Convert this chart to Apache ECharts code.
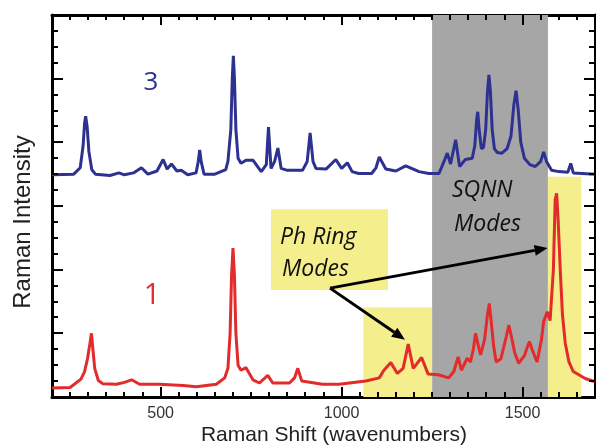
<!DOCTYPE html>
<html><head><meta charset="utf-8">
<script src="https://cdn.jsdelivr.net/npm/echarts@6/dist/echarts.min.js"></script>
<style>html,body{margin:0;padding:0;background:#fff}#c{width:596px;height:448px}</style>
</head><body><div id="c"></div>
<script>
// ---- data ----
const xRange = [200, 1700];
const yRange = [0, 6];
const xMajorTicks = [500, 1000, 1500];
const xMinorStep = 50;
const yMajorStep = 1;
const yMinorStep = 0.25;

const spectrum3Wn  = [200,260,278,286,290,293,297,302,310,320,360,385,400,425,447,465,490,507,518,530,545,557,575,598,604,608,612,620,650,680,686,694,698,701,704,708,714,722,736,755,778,792,798,805,815,824,833,850,892,905,913,921,929,957,984,1000,1016,1029,1047,1083,1095,1104,1122,1150,1177,1190,1214,1241,1269,1283,1292,1301,1315,1326,1342,1361,1368,1373,1376,1380,1386,1392,1398,1403,1407,1411,1416,1422,1430,1443,1457,1468,1476,1482,1488,1495,1505,1520,1535,1550,1558,1566,1580,1600,1625,1633,1640,1700];
const spectrum3Int = [3.49,3.5,3.6,3.95,4.3,4.41,4.25,3.85,3.57,3.5,3.48,3.52,3.49,3.52,3.6,3.5,3.55,3.73,3.58,3.66,3.55,3.56,3.49,3.52,3.7,3.88,3.7,3.5,3.5,3.57,3.7,4.2,5.0,5.36,5.0,4.2,3.75,3.67,3.72,3.72,3.54,3.65,4.24,3.59,3.7,3.91,3.59,3.56,3.56,3.7,4.15,3.7,3.59,3.58,3.73,3.59,3.68,3.54,3.51,3.51,3.6,3.77,3.58,3.55,3.63,3.6,3.54,3.51,3.51,3.7,3.83,3.66,4.04,3.62,3.73,3.75,3.95,4.35,4.48,4.2,3.9,3.92,4.2,4.8,5.06,4.8,4.2,3.9,3.84,3.83,3.9,4.1,4.6,4.81,4.5,4.0,3.75,3.65,3.62,3.7,3.85,3.7,3.56,3.54,3.53,3.67,3.52,3.5];

const spectrum1Wn  = [200,250,280,290,298,305,309,313,318,328,340,378,400,420,442,497,562,599,654,677,686,692,696,700,704,708,714,722,736,755,773,796,810,856,870,879,890,947,993,1067,1104,1117,1136,1154,1170,1184,1198,1221,1239,1267,1296,1310,1322,1331,1347,1356,1364,1370,1376,1384,1395,1403,1408,1413,1420,1427,1440,1455,1462,1469,1478,1489,1505,1514,1519,1526,1540,1552,1558,1568,1576,1580,1585,1590,1594,1598,1604,1610,1618,1628,1640,1673,1700];
const spectrum1Int = [0.14,0.15,0.28,0.4,0.6,0.85,1.0,0.75,0.45,0.26,0.21,0.2,0.23,0.27,0.2,0.2,0.18,0.16,0.2,0.3,0.45,1.0,1.9,2.34,1.9,1.0,0.5,0.42,0.46,0.27,0.22,0.34,0.22,0.22,0.3,0.45,0.25,0.2,0.2,0.25,0.3,0.42,0.54,0.37,0.45,0.83,0.45,0.62,0.36,0.35,0.3,0.4,0.63,0.42,0.61,0.55,0.75,1.0,0.85,0.66,0.9,1.3,1.47,1.2,0.8,0.55,0.6,0.95,1.13,0.95,0.7,0.53,0.65,0.8,0.87,0.75,0.55,0.9,1.18,1.34,1.2,1.18,2.0,3.1,3.2,2.8,2.0,1.3,0.84,0.55,0.4,0.29,0.24];

// shaded bands: [x0, x1, y0, y1]
const bandGray   = [[1250, 1570, 0, 6]];
const bandYellow = [[1060, 1250, 0, 1.41], [1570, 1662, 0, 3.46], [805, 1128, 1.68, 2.95]];
// arrows: [x0, y0, x1, y1]
const arrows = [[968, 1.71, 1175, 0.90], [968, 1.71, 1569, 2.34]];

// ---- chart ----
const zip = (a, b) => a.map((v, i) => [v, b[i]]);
const black = '#000';
const GRAY = '#a6a6a6', YELLOW = '#f4ef8c', BLUE = '#2d3190', RED = '#e32b2b';

// tick values (axis positions), tagged 1 = major, 0 = minor
const xTickData = [];
for (let v = xRange[0]; v <= xRange[1]; v += xMinorStep) xTickData.push([v, yRange[0], xMajorTicks.includes(v) ? 1 : 0]);
const yTickData = [];
for (let v = yRange[0]; v <= yRange[1] + 1e-9; v += yMinorStep) {
  const r = Math.round(v * 100) / 100;
  yTickData.push([xRange[0], r, Math.abs(r / yMajorStep - Math.round(r / yMajorStep)) < 1e-9 ? 1 : 0]);
}

const axisLine = { show: true, onZero: false, lineStyle: { color: black, width: 3 } };
function xAx(pos) {
  return {
    type: 'value', min: xRange[0], max: xRange[1], position: pos,
    splitLine: { show: false }, axisLine, axisTick: { show: false },
    axisLabel: pos === 'bottom'
      ? { show: true, customValues: xMajorTicks, formatter: v => String(v), fontSize: 16, color: '#333', margin: 9, fontFamily: 'Liberation Sans' }
      : { show: false }
  };
}
function yAx(pos) {
  return {
    type: 'value', min: yRange[0], max: yRange[1], interval: yMajorStep, position: pos,
    splitLine: { show: false }, axisLine, axisTick: { show: false }, axisLabel: { show: false }
  };
}

function bandSeries(name, bands, color) {
  return {
    name, type: 'custom', z: 1, silent: true, clip: false, data: bands,
    renderItem: (params, api) => {
      const p0 = api.coord([api.value(0), api.value(3)]);
      const p1 = api.coord([api.value(1), api.value(2)]);
      return { type: 'rect', shape: { x: p0[0], y: p0[1], width: p1[0] - p0[0], height: p1[1] - p0[1] }, style: { fill: color } };
    }
  };
}
const tickLine = (x1, y1, x2, y2) => ({ type: 'line', shape: { x1, y1, x2, y2 }, style: { stroke: black, lineWidth: 2 } });

const chart = echarts.init(document.getElementById('c'));
const italic = 'italic 500 23px "Open Sans"';
chart.setOption({
  animation: false,
  grid: { left: 52, right: 1, top: 15, bottom: 51, outerBoundsMode: 'none' },
  xAxis: [xAx('bottom'), xAx('top')],
  yAxis: [yAx('left'), yAx('right')],
  series: [
    bandSeries('gray band', bandGray, GRAY),
    bandSeries('yellow bands', bandYellow, YELLOW),
    {
      name: '3', type: 'line', data: zip(spectrum3Wn, spectrum3Int), showSymbol: false, z: 3,
      lineStyle: { color: BLUE, width: 3 }, itemStyle: { color: BLUE }
    },
    {
      name: '1', type: 'line', data: zip(spectrum1Wn, spectrum1Int), showSymbol: false, z: 3,
      lineStyle: { color: RED, width: 3 }, itemStyle: { color: RED }
    },
    {
      name: 'arrows', type: 'custom', z: 4, silent: true, clip: false, data: arrows,
      renderItem: (params, api) => {
        const a = api.coord([api.value(0), api.value(1)]);
        const b = api.coord([api.value(2), api.value(3)]);
        const ang = Math.atan2(b[1] - a[1], b[0] - a[0]);
        const hl = 13, hw = 5.5;
        const bx = b[0] - hl * Math.cos(ang), by = b[1] - hl * Math.sin(ang);
        const nx = -Math.sin(ang) * hw, ny = Math.cos(ang) * hw;
        return {
          type: 'group', children: [
            { type: 'line', shape: { x1: a[0], y1: a[1], x2: bx, y2: by }, style: { stroke: black, lineWidth: 3 } },
            { type: 'polygon', shape: { points: [[b[0], b[1]], [bx + nx, by + ny], [bx - nx, by - ny]] }, style: { fill: black } }
          ]
        };
      }
    },
    {
      name: 'x ticks', type: 'custom', z: 6, silent: true, clip: false, data: xTickData,
      renderItem: (params, api) => {
        const cs = params.coordSys;
        const px = Math.round(api.coord([api.value(0), api.value(1)])[0]);
        const L = api.value(2) ? 10 : 5;
        const yb = cs.y + cs.height, yt = cs.y;
        return { type: 'group', children: [tickLine(px, yb, px, yb - L), tickLine(px, yt, px, yt + L)] };
      }
    },
    {
      name: 'y ticks', type: 'custom', z: 6, silent: true, clip: false, data: yTickData,
      renderItem: (params, api) => {
        const cs = params.coordSys;
        const py = Math.round(api.coord([api.value(0), api.value(1)])[1]);
        const L = api.value(2) ? 11 : 6;
        const xl = cs.x, xr = cs.x + cs.width;
        return { type: 'group', children: [tickLine(xl, py, xl + L, py), tickLine(xr, py, xr - L, py)] };
      }
    }
  ],
  graphic: [
    { type: 'text', z: 100, x: 151, y: 83, style: { text: '3', align: 'center', verticalAlign: 'middle', font: '500 26px "Open Sans"', fill: BLUE } },
    { type: 'text', z: 100, x: 152, y: 296, style: { text: '1', align: 'center', verticalAlign: 'middle', font: '500 29px "Open Sans"', fill: RED } },
    { type: 'text', z: 100, x: 280, y: 237, style: { text: 'Ph Ring', align: 'left', verticalAlign: 'middle', font: italic, fill: '#111' } },
    { type: 'text', z: 100, x: 282, y: 269, style: { text: 'Modes', align: 'left', verticalAlign: 'middle', font: italic, fill: '#111' } },
    { type: 'text', z: 100, x: 452, y: 190, style: { text: 'SQNN', align: 'left', verticalAlign: 'middle', font: italic, fill: '#111' } },
    { type: 'text', z: 100, x: 454, y: 224, style: { text: 'Modes', align: 'left', verticalAlign: 'middle', font: italic, fill: '#111' } },
    { type: 'text', z: 100, x: 334, y: 435, style: { text: 'Raman Shift (wavenumbers)', align: 'center', verticalAlign: 'middle', font: '21px "Liberation Sans"', fill: '#222' } },
    { type: 'text', z: 100, x: 23, y: 222, rotation: Math.PI / 2, style: { text: 'Raman Intensity', align: 'center', verticalAlign: 'middle', font: '24px "Liberation Sans"', fill: '#222' } }
  ]
});
</script></body></html>
